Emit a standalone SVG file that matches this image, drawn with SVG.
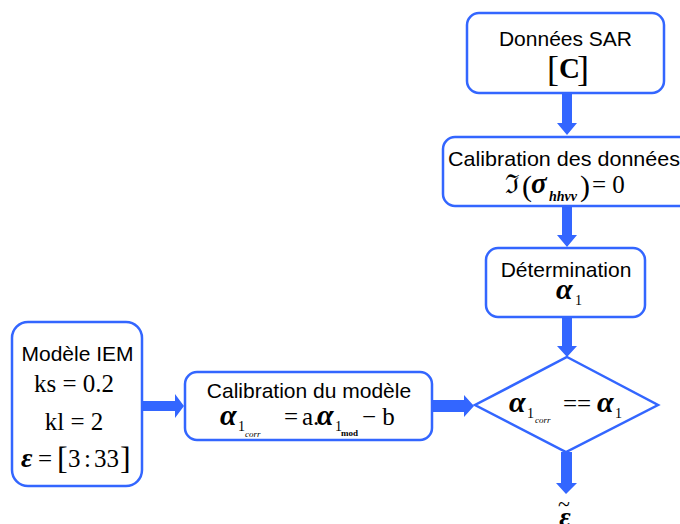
<svg xmlns="http://www.w3.org/2000/svg" width="680" height="524" viewBox="0 0 680 524">
<style>
.box{fill:#fff;stroke:#3366ff;stroke-width:2.5}
.arr{fill:#3366ff}
.t{font-family:"Liberation Sans",Arial,sans-serif;font-size:21px;fill:#000}
.m{font-family:"Liberation Serif","Times New Roman",serif;fill:#000}
.g{font-family:"Liberation Serif","Times New Roman",serif;font-style:italic;font-weight:bold;fill:#000}
.s{font-family:"Liberation Serif","Times New Roman",serif;fill:#000}
.ss{font-family:"Liberation Serif","Times New Roman",serif;font-style:italic;fill:#000}
</style>
<rect width="680" height="524" fill="#fff"/>
<g id="connectors">
<polygon class="arr" points="562,93 572,93 572,123 577,123 567,135 557,123 562,123"/>
<polygon class="arr" points="562,206 572,206 572,235 577,235 567,247 557,235 562,235"/>
<polygon class="arr" points="562,317 572,317 572,346 577,346 567,357 557,346 562,346"/>
<polygon class="arr" points="561,452 572,452 572,483 577,483 566,494 556,483 561,483"/>
<polygon class="arr" points="143,401 175,401 175,394 184,406 175,418 175,411 143,411"/>
<polygon class="arr" points="432,400 464,400 464,395 474,406 464,417 464,412 432,412"/>
</g>
<g id="donnees-sar">
<rect class="box" x="467" y="13" width="197" height="80" rx="12"/>
<text class="t" x="565.5" y="46" text-anchor="middle">Données SAR</text>
<text class="m" x="547" y="81" font-size="36">[</text>
<text class="m" x="559" y="78" font-size="29" font-weight="bold">C</text>
<text class="m" x="577" y="81" font-size="36">]</text>
</g>
<g id="calibration-donnees">
<rect class="box" x="443" y="137" width="260" height="69" rx="12"/>
<text class="t" x="448" y="166" textLength="232" lengthAdjust="spacingAndGlyphs">Calibration des données</text>
<text class="m" x="505" y="193" font-size="26">ℑ</text>
<text class="m" x="522" y="196" font-size="30">(</text>
<text class="g" x="531" y="193" font-size="29">σ</text>
<text class="ss" x="549" y="201" font-size="14" font-weight="bold">hhvv</text>
<text class="m" x="580" y="196" font-size="30">)</text>
<text class="m" x="592" y="193" font-size="25">= 0</text>
</g>
<g id="determination">
<rect class="box" x="486" y="248" width="159" height="69" rx="12"/>
<text class="t" x="566" y="277" text-anchor="middle">Détermination</text>
<text class="g" x="556" y="299" font-size="30">α</text>
<text class="s" x="575" y="305" font-size="14">1</text>
</g>
<g id="modele-iem">
<rect class="box" x="12" y="322" width="130" height="164" rx="16"/>
<text class="t" x="77.5" y="361" text-anchor="middle" font-size="21.5">Modèle IEM</text>
<text class="m" x="74" y="392" text-anchor="middle" font-size="25">ks = 0.2</text>
<text class="m" x="74" y="430" text-anchor="middle" font-size="25">kl = 2</text>
<text class="g" x="21" y="467" font-size="28">ε</text>
<text class="m" x="38" y="467" font-size="25">=</text>
<text class="m" x="57" y="469" font-size="32">[</text>
<text class="m" x="68" y="467" font-size="25">3</text>
<text class="m" x="84" y="467" font-size="25">:</text>
<text class="m" x="94" y="467" font-size="25">33</text>
<text class="m" x="120" y="469" font-size="32">]</text>
</g>
<g id="calibration-modele">
<rect class="box" x="185" y="372" width="247" height="68" rx="12"/>
<text class="t" x="309" y="398" text-anchor="middle" font-size="21.5">Calibration du modèle</text>
<text class="g" x="220" y="425" font-size="30">α</text>
<text class="s" x="238" y="431" font-size="14">1</text>
<text class="ss" x="245" y="437" font-size="9">corr</text>
<text class="m" x="284" y="425" font-size="25">=</text>
<text class="m" x="302" y="425" font-size="25">a.</text>
<text class="g" x="317" y="425" font-size="30">α</text>
<text class="s" x="335" y="431" font-size="14">1</text>
<text class="s" x="341" y="436" font-size="9" font-weight="bold">mod</text>
<text class="m" x="362" y="425" font-size="25">− b</text>
</g>
<g id="test">
<polygon class="box" points="567,357 658,405 566,452 475,405" fill="#fff"/>
<text class="g" x="509" y="412" font-size="30">α</text>
<text class="s" x="527" y="418" font-size="14">1</text>
<text class="ss" x="535" y="423" font-size="9">corr</text>
<text class="m" x="563" y="412" font-size="25">==</text>
<text class="g" x="597" y="412" font-size="30">α</text>
<text class="s" x="615" y="418" font-size="14">1</text>
</g>
<g id="resultat">
<text class="m" x="564" y="511" text-anchor="middle" font-size="22">~</text>
<text class="g" x="565" y="526" text-anchor="middle" font-size="28">ε</text>
</g>
</svg>
